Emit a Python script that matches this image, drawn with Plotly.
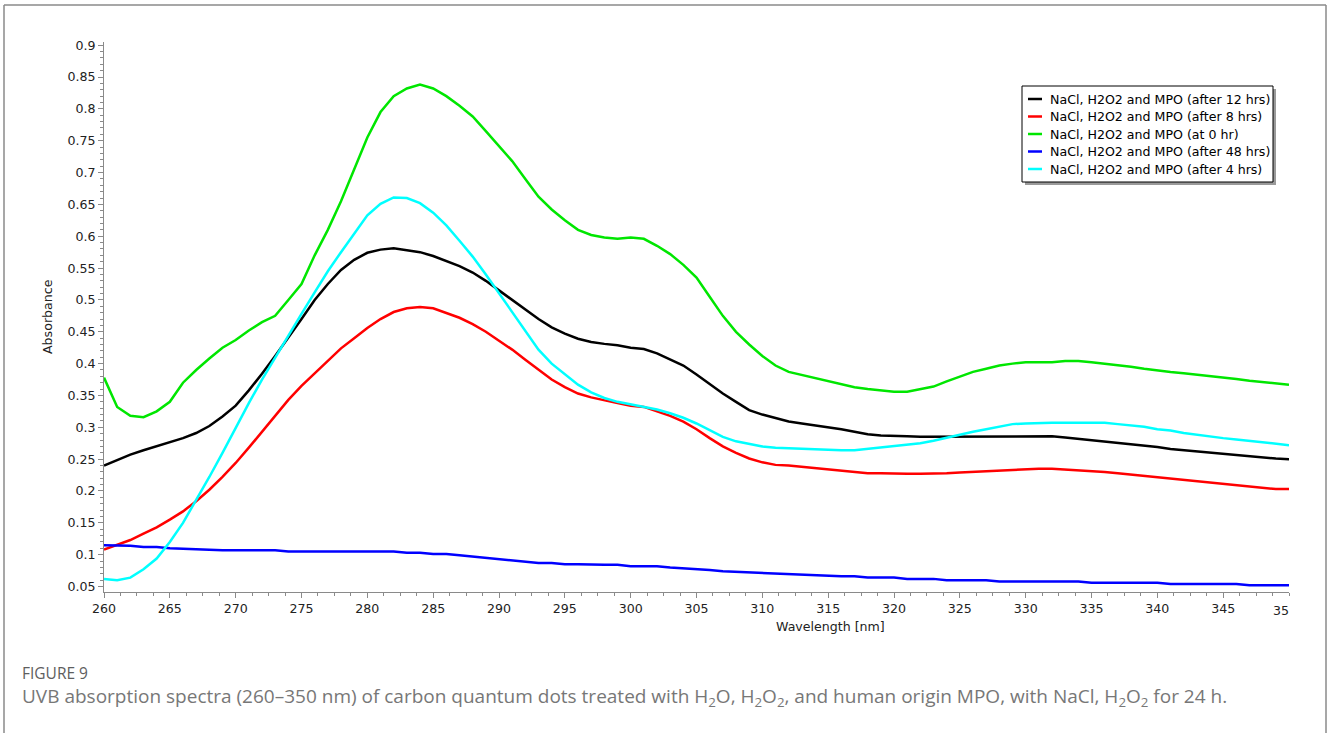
import plotly.graph_objects as go

wavelength = list(range(260, 351))

names = [
    "NaCl, H2O2 and MPO (after 12 hrs)",
    "NaCl, H2O2 and MPO (after 8 hrs)",
    "NaCl, H2O2 and MPO (at 0 hr)",
    "NaCl, H2O2 and MPO (after 48 hrs)",
    "NaCl, H2O2 and MPO (after 4 hrs)",
]
colors = ["#000000", "#ff0000", "#00e600", "#0000ff", "#00ffff"]

after_12h = [0.240, 0.249, 0.257, 0.264, 0.270, 0.276, 0.283, 0.291, 0.302, 0.317,
             0.334, 0.358, 0.384, 0.412, 0.440, 0.470, 0.500, 0.525, 0.547, 0.563,
             0.574, 0.579, 0.581, 0.578, 0.575, 0.569, 0.561, 0.553, 0.543, 0.530,
             0.515, 0.500, 0.485, 0.470, 0.457, 0.447, 0.439, 0.434, 0.431, 0.429,
             0.425, 0.423, 0.416, 0.406, 0.397, 0.383, 0.368, 0.353, 0.340, 0.327,
             0.320, 0.314, 0.309, 0.306, 0.303, 0.301, 0.297, 0.293, 0.289, 0.287,
             0.287, 0.286, 0.285, 0.285, 0.285, 0.285, 0.285, 0.285, 0.285, 0.286,
             0.286, 0.286, 0.286, 0.284, 0.282, 0.280, 0.277, 0.275, 0.273, 0.271,
             0.269, 0.266, 0.264, 0.262, 0.261, 0.259, 0.256, 0.255, 0.253, 0.251,
             0.250]

after_8h = [0.108, 0.115, 0.123, 0.133, 0.143, 0.155, 0.168, 0.184, 0.202, 0.222,
            0.244, 0.268, 0.293, 0.318, 0.343, 0.365, 0.385, 0.405, 0.424, 0.440,
            0.456, 0.470, 0.481, 0.487, 0.489, 0.487, 0.480, 0.472, 0.462, 0.450,
            0.436, 0.422, 0.406, 0.390, 0.375, 0.363, 0.353, 0.347, 0.342, 0.338,
            0.334, 0.332, 0.325, 0.318, 0.309, 0.297, 0.283, 0.270, 0.260, 0.251,
            0.245, 0.241, 0.240, 0.238, 0.236, 0.233, 0.231, 0.229, 0.228, 0.228,
            0.227, 0.227, 0.227, 0.227, 0.228, 0.229, 0.230, 0.231, 0.233, 0.234,
            0.235, 0.235, 0.235, 0.234, 0.232, 0.231, 0.230, 0.228, 0.226, 0.224,
            0.222, 0.220, 0.218, 0.216, 0.214, 0.211, 0.209, 0.207, 0.205, 0.203,
            0.203]

at_0h = [0.378, 0.332, 0.318, 0.316, 0.325, 0.340, 0.370, 0.390, 0.408, 0.425,
         0.437, 0.452, 0.465, 0.475, 0.500, 0.525, 0.570, 0.610, 0.655, 0.705,
         0.755, 0.795, 0.820, 0.832, 0.838, 0.832, 0.820, 0.805, 0.788, 0.765,
         0.742, 0.718, 0.690, 0.662, 0.642, 0.625, 0.610, 0.602, 0.598, 0.596,
         0.598, 0.596, 0.585, 0.572, 0.555, 0.535, 0.505, 0.475, 0.450, 0.430,
         0.412, 0.397, 0.387, 0.382, 0.378, 0.372, 0.368, 0.363, 0.360, 0.358,
         0.356, 0.356, 0.360, 0.364, 0.372, 0.380, 0.387, 0.392, 0.397, 0.400,
         0.402, 0.402, 0.402, 0.404, 0.404, 0.402, 0.400, 0.398, 0.395, 0.392,
         0.389, 0.387, 0.385, 0.383, 0.381, 0.378, 0.376, 0.373, 0.371, 0.369,
         0.367]

after_48h = [0.115, 0.115, 0.114, 0.112, 0.112, 0.110, 0.109, 0.109, 0.107, 0.107,
             0.107, 0.107, 0.107, 0.107, 0.105, 0.105, 0.105, 0.105, 0.105, 0.105,
             0.105, 0.105, 0.105, 0.103, 0.103, 0.101, 0.101, 0.099, 0.097, 0.095,
             0.093, 0.091, 0.089, 0.087, 0.087, 0.085, 0.085, 0.084, 0.084, 0.084,
             0.082, 0.082, 0.082, 0.080, 0.079, 0.078, 0.076, 0.074, 0.073, 0.072,
             0.072, 0.070, 0.070, 0.068, 0.068, 0.066, 0.066, 0.066, 0.064, 0.064,
             0.064, 0.062, 0.062, 0.062, 0.060, 0.060, 0.060, 0.060, 0.058, 0.058,
             0.058, 0.058, 0.058, 0.058, 0.058, 0.056, 0.056, 0.056, 0.056, 0.056,
             0.056, 0.054, 0.054, 0.054, 0.054, 0.054, 0.054, 0.052, 0.052, 0.052,
             0.052]

after_4h = [0.062, 0.060, 0.064, 0.077, 0.094, 0.120, 0.150, 0.185, 0.222, 0.260,
            0.300, 0.338, 0.375, 0.410, 0.443, 0.478, 0.512, 0.545, 0.575, 0.605,
            0.633, 0.651, 0.661, 0.660, 0.652, 0.637, 0.617, 0.593, 0.568, 0.540,
            0.510, 0.480, 0.450, 0.422, 0.400, 0.383, 0.367, 0.355, 0.346, 0.340,
            0.336, 0.333, 0.328, 0.322, 0.315, 0.306, 0.296, 0.285, 0.278, 0.274,
            0.270, 0.268, 0.267, 0.266, 0.266, 0.265, 0.264, 0.264, 0.266, 0.268,
            0.270, 0.272, 0.275, 0.279, 0.284, 0.289, 0.293, 0.297, 0.301, 0.305,
            0.306, 0.307, 0.307, 0.307, 0.307, 0.307, 0.307, 0.305, 0.303, 0.301,
            0.297, 0.295, 0.291, 0.288, 0.286, 0.283, 0.281, 0.279, 0.277, 0.275,
            0.272]

series = [after_12h, after_8h, at_0h, after_48h, after_4h]

W, H = 1328, 733
L, R, T, B = 104, 39, 42, 141
PW, PH = W - L - R, H - T - B


def px(x):
    return (x - L) / PW


def py(y):
    return (H - B - y) / PH


FONT = "DejaVu Sans"
FS = 12.6
fig = go.Figure()
for name, color, vals in zip(names, colors, series):
    fig.add_trace(go.Scatter(x=wavelength, y=vals, mode="lines", name=name,
                             line=dict(color=color, width=2.5), showlegend=False))

axis_common = dict(showline=True, linecolor="#8a8a8a", linewidth=1, showgrid=False,
                   zeroline=False, ticks="outside", ticklen=5, tickcolor="#8a8a8a",
                   tickfont=dict(family=FONT, size=FS, color="#222222"), mirror=False)

fig.update_xaxes(range=[260, 350], tickmode="array", tickvals=list(range(260, 350, 5)),
                 minor=dict(dtick=1.25, tick0=260, ticks="outside", ticklen=3, tickcolor="#8a8a8a"),
                 **axis_common)
fig.update_yaxes(range=[0.0414, 0.905], tickmode="array",
                 tickvals=[round(0.05 * i, 2) for i in range(1, 19)],
                 ticktext=[("%g" % round(0.05 * i, 2)) for i in range(1, 19)],
                 minor=dict(dtick=0.01, tick0=0.05, ticks="outside", ticklen=3, tickcolor="#8a8a8a"),
                 **axis_common)

shapes = []
annotations = []
frame = "#8a8a8a"
# outer frame
shapes.append(dict(type="line", xref="paper", yref="paper", x0=px(4), x1=px(4), y0=py(5), y1=py(740),
                   line=dict(color=frame, width=1.5)))
shapes.append(dict(type="line", xref="paper", yref="paper", x0=px(4), x1=px(1326), y0=py(5), y1=py(5),
                   line=dict(color=frame, width=1.5)))
shapes.append(dict(type="line", xref="paper", yref="paper", x0=px(1326), x1=px(1326), y0=py(5), y1=py(740),
                   line=dict(color=frame, width=1.5)))

# legend box with shadow
shapes.append(dict(type="rect", xref="paper", yref="paper", x0=px(1025), x1=px(1276), y0=py(89), y1=py(185),
                   line=dict(width=0), fillcolor="#9a9a9a", layer="above"))
shapes.append(dict(type="rect", xref="paper", yref="paper", x0=px(1022), x1=px(1273), y0=py(86), y1=py(182),
                   line=dict(color="#000000", width=1), fillcolor="#ffffff", layer="above"))
row_y = [99, 116.5, 134, 151.5, 169]
for name, color, ry in zip(names, colors, row_y):
    shapes.append(dict(type="line", xref="paper", yref="paper", x0=px(1028), x1=px(1042), y0=py(ry), y1=py(ry),
                       line=dict(color=color, width=2.5), layer="above"))
    annotations.append(dict(xref="paper", yref="paper", x=px(1048), y=py(ry), text=name, showarrow=False,
                            xanchor="left", yanchor="middle", font=dict(family=FONT, size=FS, color="#000000")))

# axis titles
annotations.append(dict(xref="paper", yref="paper", x=px(830), y=py(626), text="Wavelength [nm]",
                        showarrow=False, xanchor="center", yanchor="middle",
                        font=dict(family=FONT, size=FS, color="#222222")))
annotations.append(dict(xref="paper", yref="paper", x=px(47), y=py(317), text="Absorbance", textangle=-90,
                        showarrow=False, xanchor="center", yanchor="middle",
                        font=dict(family=FONT, size=FS, color="#222222")))
# clipped last tick label
annotations.append(dict(xref="paper", yref="paper", x=px(1291), y=py(610), text="35",
                        showarrow=False, xanchor="right", yanchor="middle",
                        font=dict(family=FONT, size=FS, color="#222222")))

# caption
annotations.append(dict(xref="paper", yref="paper", x=px(20), y=py(673), text="FIGURE 9",
                        showarrow=False, xanchor="left", yanchor="middle",
                        font=dict(family="Open Sans", size=15.5, color="#5e5e5e")))
annotations.append(dict(xref="paper", yref="paper", x=px(20), y=py(697),
                        text="UVB absorption spectra (260\u2013350 nm) of carbon quantum dots treated with H<sub>2</sub>O, "
                             "H<sub>2</sub>O<sub>2</sub>, and human origin MPO, with NaCl, H<sub>2</sub>O<sub>2</sub> for 24 h.",
                        showarrow=False, xanchor="left", yanchor="middle",
                        font=dict(family="Open Sans", size=19, color="#777777")))

fig.update_layout(width=W, height=H, margin=dict(l=L, r=R, t=T, b=B, pad=0),
                  paper_bgcolor="#ffffff", plot_bgcolor="#ffffff", showlegend=False,
                  shapes=shapes, annotations=annotations)

fig.write_html("out.html", config={"displayModeBar": False},
               post_script="document.body.style.margin='0';document.body.style.overflow='hidden';")
